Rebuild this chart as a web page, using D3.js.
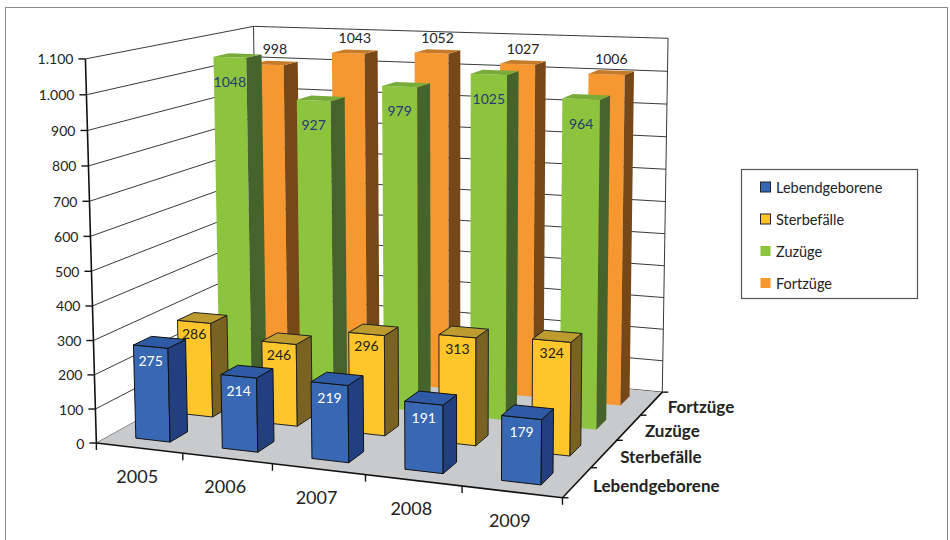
<!DOCTYPE html>
<html>
<head>
<meta charset="utf-8">
<script src="https://cdn.jsdelivr.net/npm/d3@7"></script>
<style>
  body { margin: 0; background: #fff; }
  svg { display: block; }
  text { font-family: Lato, "Open Sans", "Noto Sans", sans-serif; }
</style>
</head>
<body>
<svg id="chart" width="950" height="540"></svg>
<script>
// ---- data -------------------------------------------------------------
const years = ["2005", "2006", "2007", "2008", "2009"];
const seriesNames = ["Lebendgeborene", "Sterbefälle", "Zuzüge", "Fortzüge"];
const lebendgeborene = [275, 214, 219, 191, 179];
const sterbefaelle = [286, 246, 296, 313, 324];
const zuzuege = [1048, 927, 979, 1025, 964];
const fortzuege = [998, 1043, 1052, 1027, 1006];
const valueTicks = [0, 100, 200, 300, 400, 500, 600, 700, 800, 900, 1000, 1100];

const seriesValues = [lebendgeborene, sterbefaelle, zuzuege, fortzuege];

// ---- styling per series: front / side / top faces, outline, label ------
const styles = [
  { front: "#3867b3", side: "#223f80", top: "#2f5aa5", stroke: "#111", label: "#ffffff", place: "inside", dy: 14 },
  { front: "#fec62a", side: "#7a6222", top: "#bd9b2e", stroke: "#222", label: "#222222", place: "inside", dy: 12 },
  { front: "#8dc43e", side: "#46632b", top: "#79ab3a", stroke: "none", label: "#27397a", place: "inside", dy: 24 },
  { front: "#f6972f", side: "#764717", top: "#c77a28", stroke: "none", label: "#222222", place: "above", dy: -14 }
];

// ---- scales (normalised plot box: x = years, y = value, z = depth) -----
const x = d3.scaleBand().domain(years).range([0, 1]).paddingInner(0.6).paddingOuter(0.3);
const z = d3.scaleBand().domain(seriesNames).range([0, 1]).paddingInner(0.6).paddingOuter(0.3);
const y = d3.scaleLinear().domain([0, 1100]).range([0, 1]);

// ---- perspective camera, fitted to the corners and ticks of the plot box
const cameraAnchors = [
  [[0, 0, 0], [97, 443]], [[0, 1, 0], [86, 58]], [[1, 0, 0], [561, 498]],
  [[1, 0, 1], [660, 393]], [[0, 1, 1], [253, 26]], [[1, 1, 1], [668, 39]],
  [[0.2, 0, 0], [183, 453]], [[0.4, 0, 0], [272, 464]], [[0.6, 0, 0], [364, 475]],
  [[0.8, 0, 0], [462, 486]], [[1, 0, 0.25], [591, 467]], [[1, 0, 0.5], [619, 440]],
  [[1, 0, 0.75], [643, 414]], [[0, 0.5, 0], [91, 255]]
];

function fitCamera(pairs) {
  const n = 11;
  const M = Array.from({ length: n }, () => new Array(n + 1).fill(0));
  const add = (r, b) => {
    for (let i = 0; i < n; i++) {
      for (let j = 0; j < n; j++) M[i][j] += r[i] * r[j];
      M[i][n] += r[i] * b;
    }
  };
  pairs.forEach(([[X, Y, Z], [u, v]]) => {
    add([X, Y, Z, 1, 0, 0, 0, 0, -u * X, -u * Y, -u * Z], u);
    add([0, 0, 0, 0, X, Y, Z, 1, -v * X, -v * Y, -v * Z], v);
  });
  for (let c = 0; c < n; c++) {
    let p = c;
    for (let r = c + 1; r < n; r++) if (Math.abs(M[r][c]) > Math.abs(M[p][c])) p = r;
    [M[c], M[p]] = [M[p], M[c]];
    for (let r = 0; r < n; r++) {
      if (r === c) continue;
      const f = M[r][c] / M[c][c];
      for (let j = c; j <= n; j++) M[r][j] -= f * M[c][j];
    }
  }
  const P = M.map((row, i) => row[n] / row[i]);
  return ([X, Y, Z]) => {
    const w = P[8] * X + P[9] * Y + P[10] * Z + 1;
    return [(P[0] * X + P[1] * Y + P[2] * Z + P[3]) / w,
            (P[4] * X + P[5] * Y + P[6] * Z + P[7]) / w];
  };
}
const project = fitCamera(cameraAnchors);
const poly = pts => pts.map(p => project(p).join(",")).join(" ");

const fmt = d3.formatLocale({ decimal: ",", thousands: ".", grouping: [3], currency: ["", " €"] }).format(",d");

const svg = d3.select("#chart");

// outer frame
svg.append("rect").attr("x", 5.5).attr("y", 7.5).attr("width", 942).attr("height", 540)
  .attr("fill", "none").attr("stroke", "#8c8c8c").attr("stroke-width", 1);

// ---- walls and gridlines ----------------------------------------------
const grid = svg.append("g").attr("stroke", "#222").attr("stroke-width", 0.9).attr("fill", "none");
valueTicks.forEach(t => {
  const v = y(t);
  grid.append("polyline").attr("points", poly([[0, v, 0], [0, v, 1], [1, v, 1]]));
});
grid.append("polyline").attr("points", poly([[0, 0, 1], [0, 1, 1]]));
grid.append("polyline").attr("points", poly([[1, 0, 1], [1, 1, 1]]));

// floor
svg.append("polygon").attr("points", poly([[0, 0, 0], [1, 0, 0], [1, 0, 1], [0, 0, 1]]))
  .attr("fill", "#c9cacc").attr("stroke", "none");
svg.append("polyline").attr("points", poly([[0, 0, 0], [1, 0, 0], [1, 0, 1]]))
  .attr("fill", "none").attr("stroke", "#111").attr("stroke-width", 1.6);

// ---- value axis -------------------------------------------------------
svg.append("polyline").attr("points", poly([[0, 0, 0], [0, 1, 0]]))
  .attr("fill", "none").attr("stroke", "#111").attr("stroke-width", 1.6);
const yAxis = svg.append("g");
valueTicks.forEach(t => {
  const [px, py] = project([0, y(t), 0]);
  yAxis.append("line").attr("x1", px - 7).attr("x2", px).attr("y1", py).attr("y2", py)
    .attr("stroke", "#111").attr("stroke-width", 1.4);
  yAxis.append("text").attr("x", px - 12).attr("y", py).attr("text-anchor", "end")
    .attr("dominant-baseline", "central").attr("font-size", 14).attr("fill", "#222").text(fmt(t));
});

// ---- category axis (front edge) ---------------------------------------
const xAxis = svg.append("g");
d3.range(years.length + 1).forEach(k => {
  const [px, py] = project([k / years.length, 0, 0]);
  xAxis.append("line").attr("x1", px).attr("x2", px).attr("y1", py).attr("y2", py + 7)
    .attr("stroke", "#111").attr("stroke-width", 1.4);
});
years.forEach(yr => {
  const [px, py] = project([x(yr) + x.bandwidth() / 2, 0, 0]);
  xAxis.append("text").attr("x", px - 2).attr("y", py + 28).attr("text-anchor", "middle")
    .attr("dominant-baseline", "central").attr("font-size", 18).attr("fill", "#222").text(yr);
});

// ---- series axis (right edge) -----------------------------------------
const zAxis = svg.append("g");
d3.range(seriesNames.length + 1).forEach(k => {
  const [px, py] = project([1, 0, k / seriesNames.length]);
  zAxis.append("line").attr("x1", px).attr("x2", px + 6).attr("y1", py).attr("y2", py)
    .attr("stroke", "#111").attr("stroke-width", 1.4);
});
seriesNames.forEach(s => {
  const [px, py] = project([1, 0, z(s) + z.bandwidth() / 2]);
  zAxis.append("text").attr("x", px + 16).attr("y", py + 3).attr("dominant-baseline", "central")
    .attr("font-size", 17).attr("font-weight", "bold").attr("fill", "#222").text(s);
});

// ---- bars, drawn back row first, left to right -----------------------
const bars = svg.append("g");
for (let j = seriesNames.length - 1; j >= 0; j--) {
  const st = styles[j];
  const z0 = z(seriesNames[j]), z1 = z0 + z.bandwidth();
  years.forEach((yr, i) => {
    const val = seriesValues[j][i];
    const x0 = x(yr), x1 = x0 + x.bandwidth(), h = y(val);
    const g = bars.append("g").attr("stroke", st.stroke).attr("stroke-width", 1).attr("stroke-linejoin", "round");
    g.append("polygon").attr("points", poly([[x0, 0, z0], [x1, 0, z0], [x1, h, z0], [x0, h, z0]])).attr("fill", st.front);
    g.append("polygon").attr("points", poly([[x1, 0, z0], [x1, 0, z1], [x1, h, z1], [x1, h, z0]])).attr("fill", st.side);
    g.append("polygon").attr("points", poly([[x0, h, z0], [x1, h, z0], [x1, h, z1], [x0, h, z1]])).attr("fill", st.top);
    const xm = (x0 + x1) / 2;
    const anchor = st.place === "above" ? [xm, h, (z0 + z1) / 2] : [xm, h, z0];
    const [lx, ly] = project(anchor);
    bars.append("text").attr("x", lx).attr("y", ly + st.dy).attr("text-anchor", "middle")
      .attr("dominant-baseline", "central").attr("font-size", 14).attr("fill", st.label).text(val);
  });
}

// ---- legend -----------------------------------------------------------
const legend = svg.append("g");
legend.append("rect").attr("x", 741.5).attr("y", 169.5).attr("width", 176).attr("height", 129)
  .attr("fill", "#fff").attr("stroke", "#555").attr("stroke-width", 1.2);
seriesNames.forEach((s, j) => {
  const cy = 187 + j * 32;
  legend.append("rect").attr("x", 760.5).attr("y", cy - 5).attr("width", 10).attr("height", 10)
    .attr("fill", styles[j].front).attr("stroke", styles[j].stroke === "none" ? "none" : "#222");
  legend.append("text").attr("x", 776).attr("y", cy).attr("dominant-baseline", "central")
    .attr("font-size", 14.5).attr("fill", "#222").text(s);
});
</script>
</body>
</html>
